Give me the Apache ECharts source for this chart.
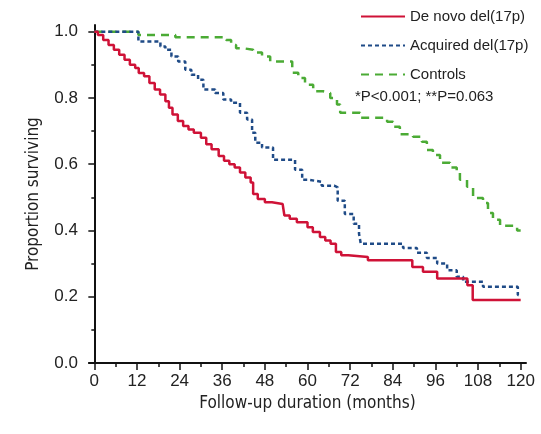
<!DOCTYPE html>
<html lang="en">
  <head>
    <meta charset="UTF-8" />
    <title>survival curves</title>
    <script src="https://cdn.jsdelivr.net/npm/echarts@6/dist/echarts.min.js"></script>
    <style>
      html, body { margin: 0; padding: 0; background: #fff; }
      #survivalChart { width: 541px; height: 434px; }
    </style>
  </head>
  <body>
    <div id="survivalChart"></div>
    <script>
      // months / proportion surviving
      var deNovoTime = [0, 1, 2.5, 4, 5.5, 7, 8.5, 10, 11.5, 12.5, 14, 15.5, 17, 18.5, 20, 21, 22, 23.5, 25, 26.5, 28, 30, 31.5, 33, 35, 36.5, 38, 39.5, 41, 42.5, 44, 44.7, 46, 48, 50, 53, 53.5, 55, 57, 60, 61.5, 63.5, 65, 66.5, 68, 69.5, 71.5, 77, 89.5, 92.5, 96.5, 105, 106.5, 120];
      var deNovoSurv = [1.0, 0.99, 0.975, 0.96, 0.945, 0.93, 0.915, 0.9, 0.89, 0.875, 0.865, 0.845, 0.825, 0.81, 0.79, 0.77, 0.75, 0.73, 0.715, 0.705, 0.695, 0.68, 0.66, 0.645, 0.625, 0.61, 0.6, 0.59, 0.575, 0.56, 0.545, 0.51, 0.495, 0.485, 0.48, 0.475, 0.445, 0.435, 0.425, 0.41, 0.395, 0.38, 0.37, 0.36, 0.335, 0.325, 0.32, 0.31, 0.29, 0.275, 0.255, 0.235, 0.19, 0.19];

      var acquiredTime = [0, 12.4, 18.6, 20, 21.7, 23.6, 25.6, 27.3, 29.2, 30.7, 34, 36.3, 38.5, 41, 43, 44.4, 45.3, 47.2, 50.3, 56.5, 58.5, 60.2, 64, 67.5, 68.5, 70.5, 73, 74.5, 75, 86.9, 90.8, 93.6, 96.5, 99.3, 102, 103.8, 109.4, 119.2, 120];
      var acquiredSurv = [1.0, 0.97, 0.955, 0.945, 0.925, 0.91, 0.885, 0.87, 0.855, 0.825, 0.815, 0.795, 0.785, 0.755, 0.735, 0.695, 0.665, 0.65, 0.613, 0.583, 0.553, 0.547, 0.535, 0.53, 0.49, 0.45, 0.42, 0.39, 0.36, 0.347, 0.333, 0.317, 0.3, 0.28, 0.26, 0.245, 0.23, 0.205, 0.205];

      var controlTime = [0, 12.4, 22.8, 37.1, 38.5, 39.9, 41.9, 44.7, 47.2, 49.5, 55.7, 57.4, 59.3, 61.6, 64.4, 66.4, 68.3, 69.2, 74.8, 82.4, 84.1, 86, 89.7, 92.2, 93.6, 95.3, 97.3, 100.1, 102, 102.9, 104.9, 106.6, 109.4, 110.8, 112.2, 114.2, 119, 120];
      var controlSurv = [1.0, 0.99, 0.983, 0.975, 0.96, 0.95, 0.945, 0.937, 0.925, 0.91, 0.876, 0.86, 0.84, 0.82, 0.815, 0.8, 0.78, 0.755, 0.74, 0.728, 0.713, 0.69, 0.683, 0.668, 0.643, 0.628, 0.604, 0.59, 0.577, 0.553, 0.532, 0.498, 0.483, 0.453, 0.432, 0.414, 0.4, 0.4];

      var xTicks = [0, 12, 24, 36, 48, 60, 72, 84, 96, 108, 120];
      var xMinorTicks = [6, 18, 30, 42, 54, 66, 78, 90, 102, 114];
      var yTicks = [0, 0.2, 0.4, 0.6, 0.8, 1.0];
      var yMinorTicks = [0.1, 0.3, 0.5, 0.7, 0.9];

      function pairs(t, v) {
        var out = [];
        for (var i = 0; i < t.length; i++) out.push([t[i], v[i]]);
        return out;
      }

      var chart = echarts.init(document.getElementById('survivalChart'));
      var font = "'Liberation Sans', Arial, sans-serif";
      var narrow = "'Liberation Sans Narrow', 'DejaVu Sans Condensed', sans-serif";

      chart.setOption({
        animation: false,
        grid: { left: 89, right: 15, top: 25, bottom: 71, outerBoundsMode: 'none' },
        title: {
          text: '*P<0.001; **P=0.063',
          left: 355,
          top: 89,
          padding: 0,
          textStyle: { fontSize: 15, fontWeight: 'normal', color: '#222', fontFamily: font }
        },
        legend: {
          orient: 'vertical',
          left: 360,
          top: 9,
          padding: 0,
          itemWidth: 44,
          itemHeight: 14,
          itemGap: 14,
          selectedMode: false,
          itemStyle: { opacity: 0 }, // 선만 보이게
          textStyle: { fontSize: 15, color: '#222', fontFamily: font }
        },
        xAxis: [
          {
            type: 'value',
            min: -1.5,
            max: 121.5,
            name: 'Follow-up duration (months)',
            nameLocation: 'middle',
            nameGap: 26,
            nameTextStyle: { fontSize: 17, color: '#222', fontFamily: narrow },
            axisLine: { lineStyle: { color: '#111', width: 2 } },
            axisTick: { customValues: xTicks, length: 7, lineStyle: { color: '#111', width: 1.5 } },
            axisLabel: { customValues: xTicks, fontSize: 17, margin: 10, color: '#222', fontFamily: font },
            splitLine: { show: false }
          },
          {
            type: 'value',
            min: -1.5,
            max: 121.5,
            position: 'bottom',
            axisLine: { show: false },
            axisTick: { customValues: xMinorTicks, length: 4, lineStyle: { color: '#111', width: 1.5 } },
            axisLabel: { show: false },
            splitLine: { show: false }
          }
        ],
        yAxis: [
          {
            type: 'value',
            min: 0,
            max: 1.02,
            name: 'Proportion surviving',
            nameLocation: 'middle',
            nameGap: 47,
            nameTextStyle: { fontSize: 17, color: '#222', fontFamily: narrow },
            axisLine: { show: true, lineStyle: { color: '#111', width: 2 } },
            axisTick: { show: true, customValues: yTicks, length: 6, lineStyle: { color: '#111', width: 1.5 } },
            axisLabel: {
              customValues: yTicks,
              fontSize: 17,
              margin: 11,
              color: '#222',
              fontFamily: font,
              formatter: function (v) { return v.toFixed(1); }
            },
            splitLine: { show: false }
          },
          {
            type: 'value',
            min: 0,
            max: 1.02,
            position: 'left',
            axisLine: { show: false },
            axisTick: { show: true, customValues: yMinorTicks, length: 3, lineStyle: { color: '#111', width: 1.5 } },
            axisLabel: { show: false },
            splitLine: { show: false }
          }
        ],
        series: [
          {
            name: 'De novo del(17p)',
            type: 'line',
            step: 'end',
            symbol: 'none',
            lineStyle: { color: '#cf1237', width: 2.5 },
            itemStyle: { color: '#cf1237' },
            data: pairs(deNovoTime, deNovoSurv),
            z: 3
          },
          {
            name: 'Acquired del(17p)',
            type: 'line',
            step: 'end',
            symbol: 'none',
            lineStyle: { color: '#1f4b87', width: 2.5, type: [4, 3] },
            itemStyle: { color: '#1f4b87' },
            data: pairs(acquiredTime, acquiredSurv),
            z: 2
          },
          {
            name: 'Controls',
            type: 'line',
            step: 'end',
            symbol: 'none',
            lineStyle: { color: '#4bab35', width: 2.5, type: [8, 6] },
            itemStyle: { color: '#4bab35' },
            data: pairs(controlTime, controlSurv),
            z: 1
          }
        ]
      });
    </script>
  </body>
</html>
